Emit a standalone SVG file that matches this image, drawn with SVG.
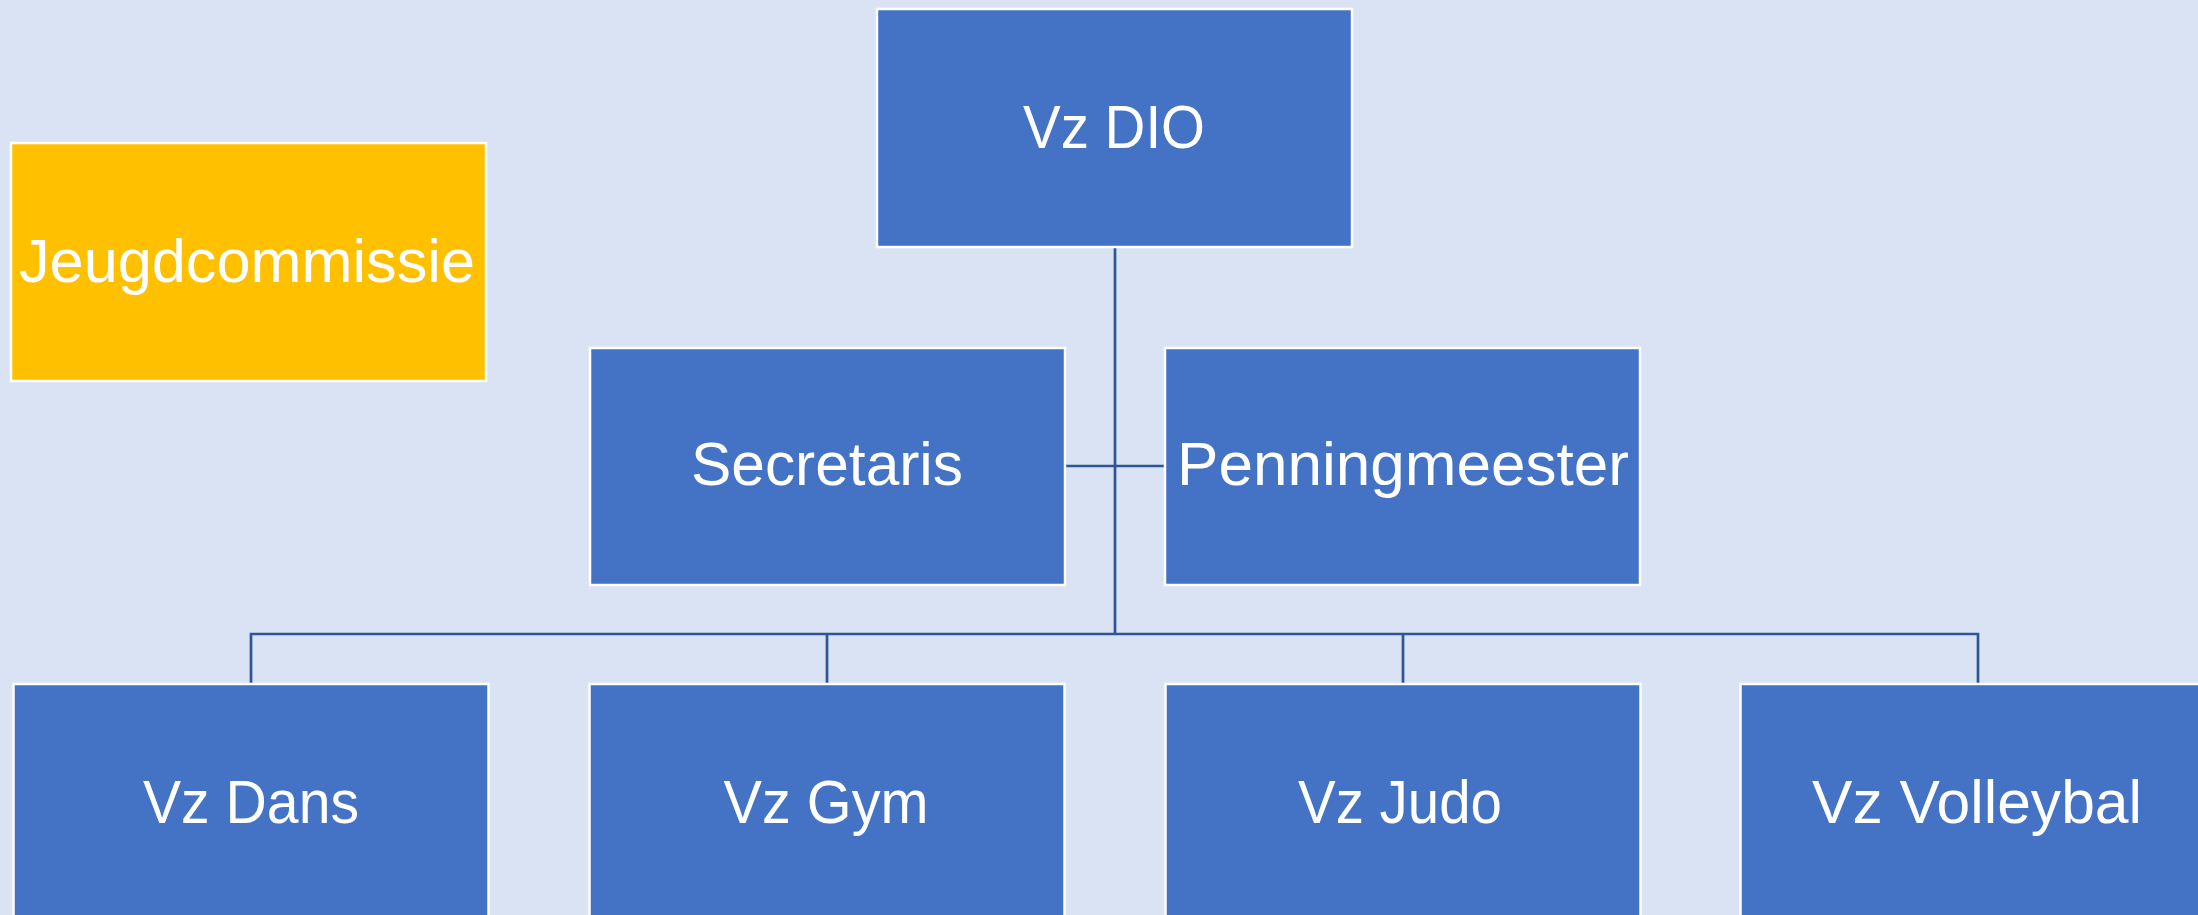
<svg xmlns="http://www.w3.org/2000/svg" width="2198" height="915" viewBox="0 0 2198 915">
<style>
.bg{fill:#DAE3F3}
.box{fill:#4472C4;stroke:#FFFFFF;stroke-width:2.5}
.yel{fill:#FFC000;stroke:#FFFFFF;stroke-width:2.5}
.lbl{font-family:"Liberation Sans",Arial,sans-serif;font-size:62px;fill:#FFFFFF;text-anchor:middle}
.con{stroke:#2F5597;stroke-width:2.7;fill:none}
</style>
<rect class="bg" x="0" y="0" width="2198" height="915"/>
<g id="connectors">
<path class="con" d="M1115,248 V634"/>
<path class="con" d="M1065,466 H1165"/>
<path class="con" d="M251,684 V634 H1978 V684"/>
<path class="con" d="M827,634 V684"/>
<path class="con" d="M1403,634 V684"/>
</g>
<g id="vz-dio">
<rect class="box" x="877" y="9" width="475" height="238"/>
<text class="lbl" x="1114" y="148" textLength="182" lengthAdjust="spacingAndGlyphs">Vz DIO</text>
</g>
<g id="jeugdcommissie">
<rect class="yel" x="11" y="143" width="475" height="238"/>
<text class="lbl" x="247" y="282" textLength="456" lengthAdjust="spacingAndGlyphs">Jeugdcommissie</text>
</g>
<g id="secretaris">
<rect class="box" x="590" y="348" width="475" height="237"/>
<text class="lbl" x="827" y="485" textLength="272" lengthAdjust="spacingAndGlyphs">Secretaris</text>
</g>
<g id="penningmeester">
<rect class="box" x="1165" y="348" width="475" height="237"/>
<text class="lbl" x="1403" y="485" textLength="452" lengthAdjust="spacingAndGlyphs">Penningmeester</text>
</g>
<g id="vz-dans">
<rect class="box" x="13.5" y="684" width="475" height="238"/>
<text class="lbl" x="251" y="823" textLength="216" lengthAdjust="spacingAndGlyphs">Vz Dans</text>
</g>
<g id="vz-gym">
<rect class="box" x="589.5" y="684" width="475" height="238"/>
<text class="lbl" x="826" y="823" textLength="205" lengthAdjust="spacingAndGlyphs">Vz Gym</text>
</g>
<g id="vz-judo">
<rect class="box" x="1165.5" y="684" width="475" height="238"/>
<text class="lbl" x="1400" y="823" textLength="204" lengthAdjust="spacingAndGlyphs">Vz Judo</text>
</g>
<g id="vz-volleybal">
<rect class="box" x="1740.5" y="684" width="475" height="238"/>
<text class="lbl" x="1977" y="823" textLength="330" lengthAdjust="spacingAndGlyphs">Vz Volleybal</text>
</g>
</svg>
